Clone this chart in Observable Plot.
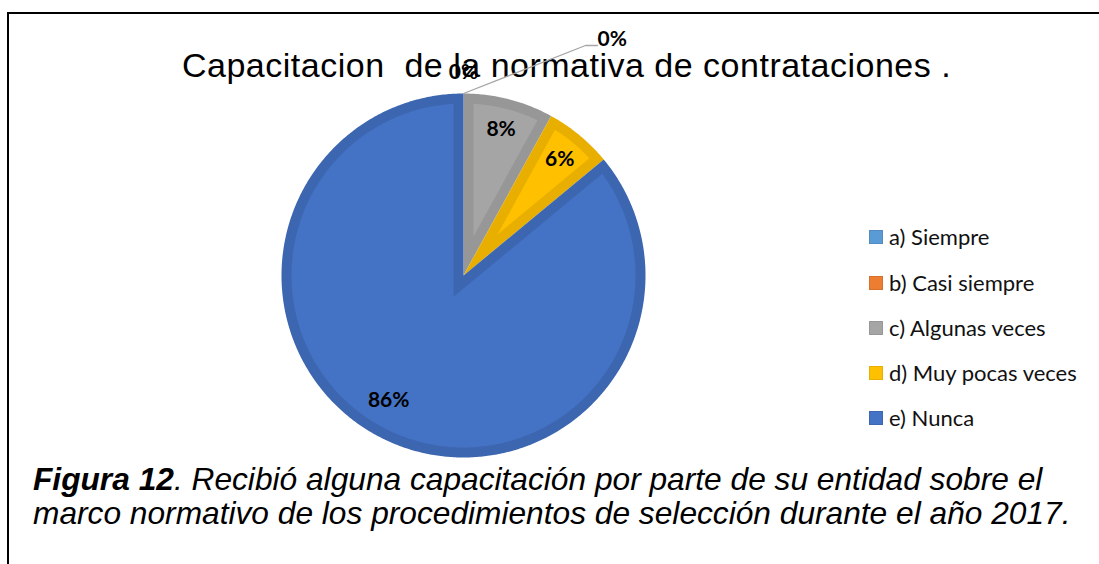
<!DOCTYPE html>
<html><head><meta charset="utf-8">
<script src="https://cdn.jsdelivr.net/npm/d3@7"></script>
<script src="https://cdn.jsdelivr.net/npm/@observablehq/plot@0.6"></script>
<style>
html,body{margin:0;padding:0;background:#fff;}
#wrap{position:relative;width:1099px;height:564px;overflow:hidden;font-family:"Liberation Sans",Arial,sans-serif;}
#frame{position:absolute;left:7px;top:12px;width:1200px;height:700px;border-top:2px solid #000;border-left:2px solid #000;box-sizing:border-box;}
#title{position:absolute;left:182px;top:48px;font-size:34px;line-height:34px;letter-spacing:0.5px;white-space:pre;color:#000;}
#chart{position:absolute;left:0;top:0;}
#legend{position:absolute;left:869px;top:0;font-family:Lato,"Open Sans",sans-serif;font-size:22px;color:#111;}
.row{position:absolute;left:0;height:26px;line-height:26px;white-space:nowrap;display:flex;align-items:center;}
.sw{width:14px;height:14px;margin-right:6px;box-sizing:border-box;border:1px solid;}
#caption{position:absolute;left:33px;top:463px;font-size:31.7px;line-height:33.5px;font-style:italic;white-space:nowrap;color:#000;}
</style></head>
<body>
<div id="wrap">
  <div id="frame"></div>
  <div id="title"></div>
  <div id="chart"></div>
  <div id="legend"></div>
  <div id="caption"></div>
</div>
<script>
// ---- data ----
const categories = ["a) Siempre", "b) Casi siempre", "c) Algunas veces", "d) Muy pocas veces", "e) Nunca"];
const values = [0, 0, 8, 6, 86];
const valueLabels = ["0%", "0%", "8%", "6%", "86%"];
const fillColors = ["#5B9BD5", "#ED7D31", "#A5A5A5", "#FFC000", "#4472C4"];
const borderColors = ["#528CC2", "#D5712C", "#979797", "#E8AE00", "#3D66B1"];
const titleText = "Capacitacion  de la normativa de contrataciones .";
const captionBold = "Figura 12";
const captionLine1 = ". Recibió alguna capacitación por parte de su entidad sobre el";
const captionLine2 = "marco normativo de los procedimientos de selección durante el año 2017.";

// ---- layout ----
const W = 1099, H = 564;
const CX = 463, CY = 275, R = 182, BORDER = 10;

document.getElementById("title").textContent = titleText;
const cap = document.getElementById("caption");
const bEl = document.createElement("b"); bEl.textContent = captionBold; cap.appendChild(bEl);
cap.appendChild(document.createTextNode(captionLine1));
cap.appendChild(document.createElement("br"));
cap.appendChild(document.createTextNode(captionLine2));

const legend = document.getElementById("legend");
const rowY = [237, 282.5, 328, 373, 418];
categories.forEach((c, i) => {
  const row = document.createElement("div");
  row.className = "row";
  row.style.top = (rowY[i] - 13) + "px";
  const sw = document.createElement("span");
  sw.className = "sw";
  sw.style.background = fillColors[i];
  sw.style.borderColor = borderColors[i];
  row.appendChild(sw);
  row.appendChild(document.createTextNode(c));
  legend.appendChild(row);
});

// ---- pie geometry (unit circle, angle 0 at top, clockwise) ----
const total = d3.sum(values);
let acc = 0;
const slices = values.map((v, i) => {
  const a0 = acc / total * 2 * Math.PI; acc += v;
  const a1 = acc / total * 2 * Math.PI;
  return {i, v, a0, a1, mid: (a0 + a1) / 2};
});
const pt = (a, r) => ({x: r * Math.sin(a), y: r * Math.cos(a)});
function arcPts(a0, a1, r) {
  const n = Math.max(2, Math.ceil((a1 - a0) / 0.01));
  return d3.range(n + 1).map(k => pt(a0 + (a1 - a0) * k / n, r));
}
function outerPoly(s) {
  if (s.a1 - s.a0 <= 0) return [];
  return [pt(0, 0), ...arcPts(s.a0, s.a1, 1), pt(0, 0)];
}
function innerPoly(s) {
  const th = s.a1 - s.a0, b = BORDER / R, ri = 1 - b;
  if (th <= 0) return [];
  const d = Math.asin(b / ri);
  if (th <= 2 * d) return [];
  const apex = pt(s.mid, b / Math.sin(th / 2));
  return [apex, ...arcPts(s.a0 + d, s.a1 - d, ri), apex];
}

const marks = [];
slices.forEach(s => {
  const o = outerPoly(s);
  if (o.length) marks.push(Plot.line(o, {x: "x", y: "y", fill: borderColors[s.i], stroke: "none", curve: "linear"}));
});
slices.forEach(s => {
  const p = innerPoly(s);
  if (p.length) marks.push(Plot.line(p, {x: "x", y: "y", fill: fillColors[s.i], stroke: "none", curve: "linear"}));
});

// data labels
const inner = [], outer = [], leader = [];
let zeroCount = 0;
slices.forEach(s => {
  if (s.v > 0) {
    // large slice label sits a little further round, as Office's best-fit does
    const a = s.v > 50 ? s.mid + 0.1 : s.mid;
    inner.push({...pt(a, s.v > 50 ? 0.8 : 0.83), t: valueLabels[s.i]});
  } else if (zeroCount++ === 0) {
    inner.push({...pt(s.mid, 1.115), t: valueLabels[s.i]});
  } else {
    const e = pt(s.mid, 1);
    const elbow = {x: e.x + 122 / R, y: e.y + 48 / R};
    const end = {x: elbow.x + 12 / R, y: elbow.y};
    leader.push(e, elbow, end);
    outer.push({x: end.x, y: end.y, t: valueLabels[s.i]});
  }
});
const font = {fontSize: 21, fontWeight: "bold", fill: "#000", fontFamily: "Lato, 'Open Sans', sans-serif"};
if (leader.length) marks.push(Plot.line(leader, {x: "x", y: "y", stroke: "#a6a6a6", strokeWidth: 1.3}));
marks.push(Plot.text(inner, {x: "x", y: "y", text: "t", ...font}));
marks.push(Plot.text(outer, {x: "x", y: "y", text: "t", dx: 0, dy: -6, textAnchor: "start", ...font}));

const svg = Plot.plot({
  width: W, height: H,
  margin: 0,
  x: {domain: [-1, 1], range: [CX - R, CX + R], axis: null},
  y: {domain: [-1, 1], range: [CY + R, CY - R], axis: null},
  style: {background: "transparent", overflow: "visible"},
  marks
});
document.getElementById("chart").appendChild(svg);
</script>
</body></html>
